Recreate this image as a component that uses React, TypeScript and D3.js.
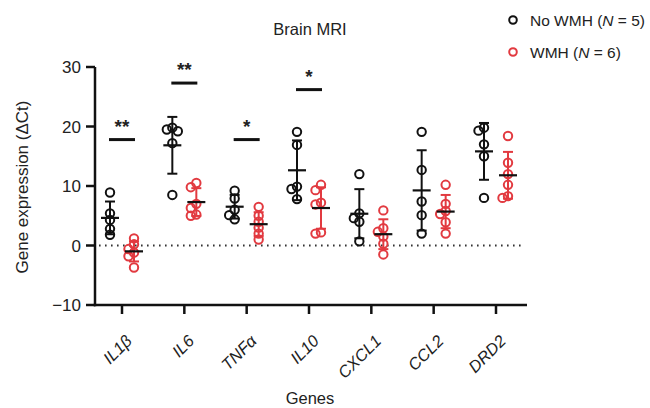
import React from "react";
import * as d3 from "d3";

const genes = ["IL1β", "IL6", "TNFα", "IL10", "CXCL1", "CCL2", "DRD2"];
const noWMH: number[][] = [
  [8.9, 5.4, 4.3, 2.8, 1.8],
  [19.5, 19.8, 19.2, 17.2, 8.5],
  [9.2, 7.9, 6.0, 5.1, 4.4],
  [19.1, 16.9, 9.9, 9.5, 7.8],
  [12.0, 5.4, 4.6, 4.0, 0.7],
  [19.1, 12.7, 7.4, 5.1, 2.0],
  [19.8, 19.3, 17.0, 15.0, 8.0],
];
const WMH: number[][] = [
  [1.2, 0.2, -0.6, -1.2, -1.8, -3.7],
  [10.5, 9.8, 7.0, 6.3, 5.2, 5.0],
  [6.5, 5.0, 4.0, 3.0, 2.0, 1.0],
  [10.2, 9.3, 7.2, 6.9, 2.2, 2.0],
  [5.9, 2.9, 2.3, 1.5, 0.3, -1.5],
  [10.2, 7.0, 5.8, 5.3, 3.9, 2.0],
  [18.4, 13.9, 12.0, 10.2, 8.3, 8.0],
];
const sigGenes = ["IL1β", "IL6", "TNFα", "IL10"];
const sigLevels = [17.8, 27.3, 17.8, 26.2];
const sigLabels = ["**", "**", "*", "*"];
const yTicks = [-10, 0, 10, 20, 30];

const RED = "#e23a40";
const FONT = "'Liberation Sans', Arial, Helvetica, sans-serif";

function dodge(vals: number[], y: (v: number) => number) {
  const idx = vals.map((v, i) => i).sort((a, b) => vals[b] - vals[a]);
  const placed: { x: number; y: number }[] = [];
  const out: number[] = new Array(vals.length).fill(0);
  const step = 5.5;
  const cands = [0, -step, step, -2 * step, 2 * step];
  for (const i of idx) {
    const py = y(vals[i]);
    for (const c of cands) {
      const ok = placed.every((p) => Math.hypot(p.x - c, p.y - py) >= 5.5);
      if (ok) {
        out[i] = c;
        placed.push({ x: c, y: py });
        break;
      }
    }
  }
  return out;
}

export default function App() {
  const W = 650, H = 408;
  const x0 = 95, x1 = 527;
  const y = d3.scaleLinear().domain([-10, 30]).range([305, 67]);
  const x = d3.scalePoint<string>().domain(genes).range([122, 496]);
  const off = 12;
  const r = 4.2;

  const group = (vals: number[], cx: number, color: string, key: string) => {
    const m = d3.mean(vals)!;
    const sd = d3.deviation(vals)!;
    const dx = dodge(vals, y);
    return (
      <g key={key}>
        <line x1={cx} x2={cx} y1={y(m + sd)} y2={y(m - sd)} stroke={color} strokeWidth={2} />
        <line x1={cx - 5} x2={cx + 5} y1={y(m + sd)} y2={y(m + sd)} stroke={color} strokeWidth={2} />
        <line x1={cx - 5} x2={cx + 5} y1={y(m - sd)} y2={y(m - sd)} stroke={color} strokeWidth={2} />
        {vals.map((v, i) => (
          <circle key={i} cx={cx + dx[i]} cy={y(v)} r={r} fill="none" stroke={color} strokeWidth={2} />
        ))}
        <line x1={cx - 9} x2={cx + 9} y1={y(m)} y2={y(m)} stroke="#111" strokeWidth={2.2} />
      </g>
    );
  };

  return (
    <svg width={W} height={H} style={{ position: "absolute", left: 0, top: 0, background: "white" }} fontFamily={FONT}>
      <rect width={W} height={H} fill="white" />
      <text x={310} y={35} textAnchor="middle" fontSize={16.5} fill="#222">Brain MRI</text>
      {/* legend */}
      <circle cx={513} cy={20} r={3.8} fill="none" stroke="#111" strokeWidth={2} />
      <text x={530} y={25.5} fontSize={15.5} fill="#222">No WMH (<tspan fontStyle="italic">N</tspan> = 5)</text>
      <circle cx={513} cy={52} r={3.8} fill="none" stroke={RED} strokeWidth={2} />
      <text x={530} y={57.5} fontSize={15.5} fill="#222">WMH (<tspan fontStyle="italic">N</tspan> = 6)</text>

      {/* zero dotted line */}
      <line x1={x0 + 4} x2={x1 - 4} y1={y(0)} y2={y(0)} stroke="#333" strokeWidth={2} strokeDasharray="1.6 4.4" />

      {/* y axis */}
      <line x1={x0} x2={x0} y1={y(30)} y2={y(-10) + 1.25} stroke="#111" strokeWidth={2.5} />
      {yTicks.map((t) => (
        <g key={t}>
          <line x1={x0 - 9} x2={x0} y1={y(t)} y2={y(t)} stroke="#111" strokeWidth={2.5} />
          <text x={x0 - 14} y={y(t) + 6} textAnchor="end" fontSize={17} fill="#222">
            {t < 0 ? "\u2212" + Math.abs(t) : t}
          </text>
        </g>
      ))}
      <text transform={`translate(28,${y(10) + 1}) rotate(-90)`} textAnchor="middle" fontSize={17} fill="#222">
        Gene expression (ΔCt)
      </text>

      {/* x axis */}
      <line x1={x0 - 1.25} x2={x1} y1={y(-10)} y2={y(-10)} stroke="#111" strokeWidth={2.5} />
      {genes.map((g) => (
        <g key={g}>
          <line x1={x(g)!} x2={x(g)!} y1={y(-10)} y2={y(-10) + 9} stroke="#111" strokeWidth={2.5} />
          <text
            transform={`translate(${x(g)! + 11},${y(-10) + 37}) rotate(-45)`}
            textAnchor="end"
            fontSize={16.5}
            fontStyle="italic"
            fill="#222"
          >
            {g}
          </text>
        </g>
      ))}
      <text x={310} y={404} textAnchor="middle" fontSize={16.5} fill="#222">Genes</text>

      {/* data */}
      {genes.map((g, i) => (
        <g key={g}>
          {group(noWMH[i], x(g)! - off, "#111", "a")}
          {group(WMH[i], x(g)! + off, RED, "b")}
        </g>
      ))}

      {/* significance */}
      {sigGenes.map((g, i) => (
        <g key={g}>
          <line x1={x(g)! - 13} x2={x(g)! + 13} y1={y(sigLevels[i])} y2={y(sigLevels[i])} stroke="#111" strokeWidth={3} />
          <text x={x(g)!} y={y(sigLevels[i]) - 7} textAnchor="middle" fontSize={19} fontWeight="bold" fill="#222">
            {sigLabels[i]}
          </text>
        </g>
      ))}
    </svg>
  );
}
